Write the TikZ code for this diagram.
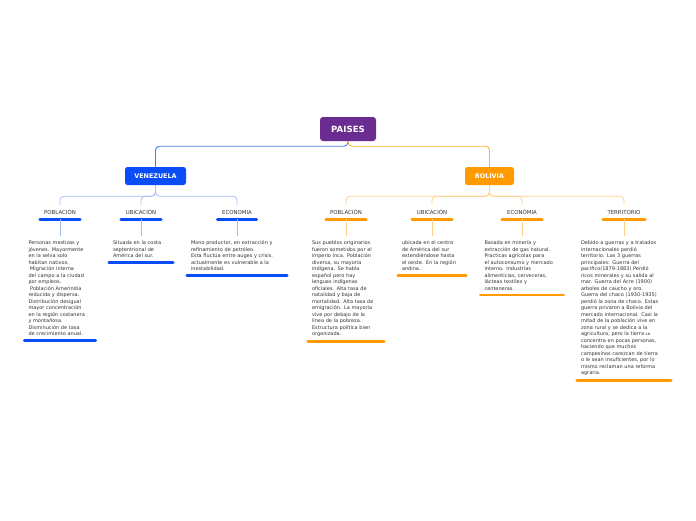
\documentclass[tikz,border=0pt]{standalone}
\usepackage{fontspec}
\setmainfont{DejaVu Sans}
\usetikzlibrary{positioning}
\definecolor{paisviolet}{HTML}{6A2C91}
\definecolor{vzblue}{HTML}{0A4CF5}
\definecolor{vzline}{HTML}{4A7BF0}
\definecolor{vzsoft}{HTML}{A5BDF5}
\definecolor{bolorange}{HTML}{FF9A00}
\definecolor{bolline}{HTML}{FFB340}
\definecolor{bolsoft}{HTML}{FFD08A}
\definecolor{txtgray}{HTML}{333333}
\tikzset{
  topblk/.style  = {rounded corners=3pt, fill=paisviolet, text=white,
                    font=\bfseries\fontsize{8.6}{10}\selectfont,
                    minimum height=24pt, minimum width=56pt, inner sep=2pt},
  ctryblk/.style = {rounded corners=2.5pt, text=white,
                    font=\bfseries\fontsize{6.4}{8}\selectfont,
                    minimum height=18pt, inner sep=2pt},
  subhd/.style   = {font=\fontsize{5.4}{6.5}\selectfont, text=txtgray,
                    text height=4pt, text depth=0pt,
                    minimum height=14pt, inner sep=0pt},
  notes/.style   = {align=left, inner xsep=4pt, inner ysep=4.5pt,
                    font=\fontsize{5}{6.5}\selectfont, text=txtgray},
  bar/.style     = {line width=2.6pt, line cap=round},
  conn/.style    = {line width=0.9pt, rounded corners=4pt},
  subconn/.style = {line width=0.8pt, rounded corners=4pt}
}

\begin{document}
\begin{tikzpicture}[x=1pt, y=-1pt]
\useasboundingbox (0,0) rectangle (696,520);

\node[topblk] (paises) at (348,129) {PAISES};
\node[ctryblk, fill=vzblue, minimum width=61pt] (venez) at (155.5,176) {VENEZUELA};
\node[ctryblk, fill=bolorange, minimum width=49pt] (boliv) at (489.5,176) {BOLIVIA};

\draw[conn, vzline] (paises.south) -- ++(0,5) -| (venez.north);
\draw[conn, bolline] (paises.south) -- ++(0,5) -| (boliv.north);

% venezuela
\node[subhd, minimum width=40pt] (vpob) at (60,212) {POBLACIÓN};
\node[subhd, minimum width=40pt] (vubi) at (141,212) {UBICACIÓN};
\node[subhd, minimum width=39pt] (veco) at (237,212) {ECONOMIA};

\foreach \s in {vpob,vubi,veco} {
  \draw[subconn, vzsoft] (venez.south) -- ++(0,11) -| (\s.north);
  \draw[bar, vzblue] (\s.south west) -- (\s.south east);
}

\node[notes, text width=63pt, below=17pt of vpob] (vpobtx)
  {Personas mestizas y\\ jóvenes. Mayormente\\ en la selva solo\\ habitan nativos.\\
   \ Migración interna\\ del campo a la ciudad\\ por empleos.\\ \ Población Amerindia\\
   reducida y dispersa.\\ Distribución desigual\\ mayor concentración\\
   en la región costanera\\ y montañosa.\\ Disminución de tasa\\ de crecimiento anual.};
\node[notes, text width=56pt, below=17pt of vubi] (vubitx)
  {Situada en la costa\\ septentrional de\\ América del sur.};
\node[notes, text width=92pt, below=17pt of veco] (vecotx)
  {Mono productor, en extracción y\\ refinamiento de petróleo.\\
   Esta fluctúa entre auges y crisis.\\ actualmente es vulnerable a la\\ inestabilidad.};

\foreach \s in {vpob,vubi,veco} {
  \draw[subconn, vzsoft] (\s.south) -- (\s tx.north);
  \draw[bar, vzblue] (\s tx.south west) -- (\s tx.south east);
}

% bolivia
\node[subhd, minimum width=40pt] (bpob) at (346,212) {POBLACIÓN};
\node[subhd, minimum width=40pt] (bubi) at (432,212) {UBICACIÓN};
\node[subhd, minimum width=40pt] (beco) at (522,212) {ECONÓMIA};
\node[subhd, minimum width=42pt] (bter) at (624,212) {TERRITORIO};

\foreach \s in {bpob,bubi,beco,bter} {
  \draw[subconn, bolsoft] (boliv.south) -- ++(0,11) -| (\s.north);
  \draw[bar, bolorange] (\s.south west) -- (\s.south east);
}

\node[notes, text width=68pt, below=17pt of bpob] (bpobtx)
  {Sus pueblos originarios\\ fueron sometidos por el\\ imperio inca. Población\\
   diversa, su mayoría\\ indígena. Se habla\\ español pero hay\\ lenguas indígenas\\
   oficiales. Alta tasa de\\ natalidad y baja de\\ mortalidad. Alta tasa de\\
   emigración. La mayoría\\ vive por debajo de la\\ línea de la pobreza.\\
   Estructura política bien\\ organizada.};
\node[notes, text width=60pt, below=17pt of bubi] (bubitx)
  {ubicada en el centro\\ de América del sur\\ extendiéndose hasta\\
   el oeste. En la región\\ andina.};
\node[notes, text width=75pt, below=17pt of beco] (becotx)
  {Basada en minería y\\ extracción de gas natural.\\ Practicas agrícolas para\\
   el autoconsumo y mercado\\ interno. Industrias\\ alimenticias, cerveceras,\\
   lácteas textiles y\\ centeneras.};
\node[notes, text width=86pt, below=17pt of bter] (bterdtx)
  {Debido a guerras y a tratados\\ internacionales perdió\\ territorio. Las 3 guerras\\
   principales: Guerra del\\ pacifico(1879-1883) Perdió\\ ricos minerales y su salida al\\
   mar. Guerra del Acre (1900)\\ arboles de caucho y oro.\\ Guerra del chaco (1930-1935)\\
   perdió la zona de chaco. Estas\\ guerra privaron a Bolivia del\\
   mercado internacional. Casi la\\ mitad de la población vive en\\
   zona rural y se dedica a la\\ agricultura, pero la tierra {\fontsize{4}{6.5}\selectfont se}\\
   concentra en pocas personas,\\ haciendo que muchos\\ campesinos carezcan de tierra\\
   o le sean insuficientes, por lo\\ mismo reclaman una reforma\\ agraria.};

\foreach \s in {bpob,bubi,beco} {
  \draw[subconn, bolsoft] (\s.south) -- (\s tx.north);
  \draw[bar, bolorange] (\s tx.south west) -- (\s tx.south east);
}
\draw[subconn, bolsoft] (bter.south) -- (bterdtx.north);
\draw[bar, bolorange] (bterdtx.south west) -- (bterdtx.south east);
\end{tikzpicture}
\end{document}
